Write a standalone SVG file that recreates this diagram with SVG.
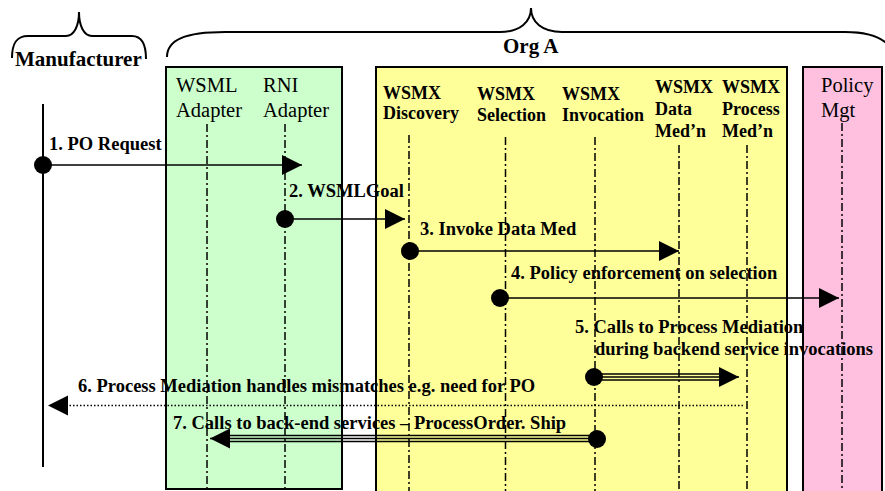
<svg xmlns="http://www.w3.org/2000/svg" width="885" height="491" viewBox="0 0 885 491">
<defs>
<style>
.box{stroke:#000;stroke-width:2}
.life{stroke:#000;stroke-width:1.5;stroke-dasharray:8 3 2 3;fill:none}
.hd{font-family:"Liberation Serif","Times New Roman",serif;font-weight:bold;font-size:18px;fill:#000}
.nm{font-family:"Liberation Serif","Times New Roman",serif;font-size:20.5px;fill:#000}
.lb{font-family:"Liberation Serif","Times New Roman",serif;font-weight:bold;font-size:18.5px;fill:#000}
.big{font-family:"Liberation Serif","Times New Roman",serif;font-weight:bold;font-size:21px;fill:#000}
.ln{stroke:#000;stroke-width:1.7;fill:none}
.tl{stroke:#000;stroke-width:1.5;fill:none}
.dot{stroke:#000;stroke-width:1.5;stroke-dasharray:1.5 2;fill:none}
.brace{stroke:#000;stroke-width:2;fill:none}
</style>
<marker id="arr" markerUnits="userSpaceOnUse" viewBox="0 0 20 20" markerWidth="20" markerHeight="20" refX="20" refY="10" orient="auto">
<path d="M0,0 L20,10 L0,20 z" fill="#000"/>
</marker>
</defs>
<rect width="885" height="491" fill="#fff"/>

<g id="manufacturer">
<path class="brace" d="M12,58 C12,44 16,36 28,36 L66,36 C74,36 79,26 79,12 C79,26 84,36 92,36 L132,36 C142,36 146,44 146,59"/>
<text class="big" x="15" y="66">Manufacturer</text>
<line x1="43" y1="104" x2="43" y2="467" stroke="#000" stroke-width="2"/>
</g>

<g id="orgA">
<path class="brace" d="M167,57 C167,40 185,32 225,32 L500,32 C520,32 531,22 531,8 C531,22 542,32 562,32 L845,32 C870,32 885,38 892,50"/>
<text class="big" x="503" y="53">Org A</text>
</g>

<g id="adapters">
<rect class="box" x="166" y="67" width="176" height="422" fill="#ccffcc"/>
</g>
<g id="wsmx">
<rect class="box" x="376" y="67" width="411" height="430" fill="#ffff99"/>
</g>
<g id="policy">
<rect class="box" x="803" y="67" width="79" height="430" fill="#ffc0e0"/>
</g>

<g id="labels">
<text class="lb" x="49" y="150">1. PO Request</text>
<text class="lb" x="289" y="197">2. WSMLGoal</text>
<text class="lb" x="420" y="235">3. Invoke Data Med</text>
<text class="lb" x="511" y="279">4. Policy enforcement on selection</text>
<text class="lb" x="575" y="333">5. Calls to Process Mediation</text>
<text class="lb" x="595" y="355">during backend service invocations</text>
<text class="lb" x="78" y="392">6. Process Mediation handles mismatches e.g. need for PO</text>
<text class="lb" x="173" y="429">7. Calls to back-end services – ProcessOrder. Ship</text>
</g>

<g id="wsml-adapter">
<text class="nm" x="176" y="92">WSML</text>
<text class="nm" x="176" y="117">Adapter</text>
<line class="life" x1="207" y1="124" x2="207" y2="491"/>
</g>
<g id="rni-adapter">
<text class="nm" x="263" y="92">RNI</text>
<text class="nm" x="263" y="117">Adapter</text>
<line class="life" x1="285" y1="124" x2="285" y2="491"/>
</g>
<g id="wsmx-discovery">
<text class="hd" x="383" y="99">WSMX</text>
<text class="hd" x="383" y="119">Discovery</text>
<line class="life" x1="409" y1="135" x2="409" y2="491"/>
</g>
<g id="wsmx-selection">
<text class="hd" x="477" y="100">WSMX</text>
<text class="hd" x="477" y="121">Selection</text>
<line class="life" x1="505.5" y1="137" x2="505.5" y2="491"/>
</g>
<g id="wsmx-invocation">
<text class="hd" x="562" y="100">WSMX</text>
<text class="hd" x="562" y="121">Invocation</text>
<line class="life" x1="595" y1="137" x2="595" y2="491"/>
</g>
<g id="wsmx-datamed">
<text class="hd" x="655" y="93">WSMX</text>
<text class="hd" x="655" y="115">Data</text>
<text class="hd" x="655" y="137">Med’n</text>
<line class="life" x1="679" y1="145" x2="679" y2="491"/>
</g>
<g id="wsmx-processmed">
<text class="hd" x="722" y="93">WSMX</text>
<text class="hd" x="722" y="115">Process</text>
<text class="hd" x="722" y="137">Med’n</text>
<line class="life" x1="747" y1="145" x2="747" y2="491"/>
</g>
<g id="policy-mgt">
<text class="nm" x="821" y="92">Policy</text>
<text class="nm" x="821" y="117">Mgt</text>
<line class="life" x1="842" y1="123" x2="842" y2="491"/>
</g>

<g id="connectors">
<circle cx="43" cy="165" r="9"/>
<line class="ln" x1="43" y1="165" x2="302" y2="165" marker-end="url(#arr)"/>
<circle cx="285" cy="219" r="9"/>
<line class="ln" x1="285" y1="219" x2="405" y2="219" marker-end="url(#arr)"/>
<circle cx="410" cy="251" r="9"/>
<line class="ln" x1="410" y1="251" x2="679" y2="251" marker-end="url(#arr)"/>
<circle cx="500" cy="298" r="9"/>
<line class="ln" x1="500" y1="298" x2="839" y2="298" marker-end="url(#arr)"/>
<circle cx="594" cy="377" r="9"/>
<line class="tl" x1="594" y1="374" x2="720" y2="374"/>
<line class="tl" x1="594" y1="377" x2="739" y2="377" marker-end="url(#arr)"/>
<line class="tl" x1="594" y1="380" x2="720" y2="380"/>
<line class="dot" x1="743" y1="405.5" x2="62" y2="405.5"/>
<path d="M68,395.5 L48,405.5 L68,415.5 z" fill="#000"/>
<circle cx="597" cy="439" r="9"/>
<line class="tl" x1="597" y1="435.5" x2="228" y2="435.5"/>
<line class="tl" x1="597" y1="438.5" x2="210" y2="438.5" marker-end="url(#arr)"/>
<line class="tl" x1="597" y1="441.5" x2="228" y2="441.5"/>
</g>
</svg>
